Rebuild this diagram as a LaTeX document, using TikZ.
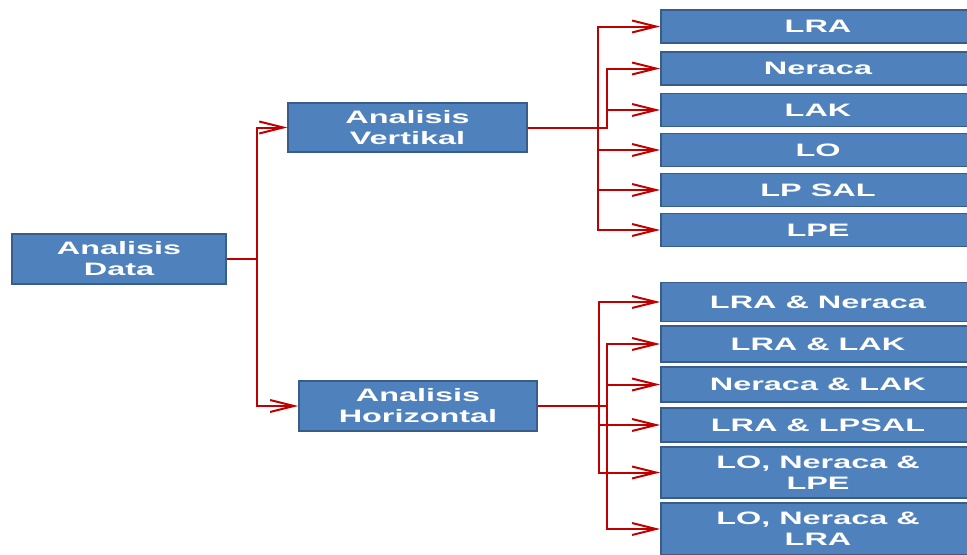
\documentclass[tikz,border=0pt]{standalone}
\usepackage{fontspec}
\newfontfamily\boxfont{Liberation Sans}[FakeStretch=1.8]
\usetikzlibrary{arrows.meta}
\definecolor{boxblue}{RGB}{79,129,189}
\definecolor{boxedge}{RGB}{56,93,138}
\definecolor{linkred}{RGB}{192,0,0}
\begin{document}
\begin{tikzpicture}[x=0.75pt,y=-0.75pt]
\tikzstyle{every node}+=[inner sep=0pt]
\tikzstyle{box}=[draw=boxedge, line width=1.2pt, fill=boxblue, text=white, align=center, font=\boxfont\bfseries\fontsize{13.5}{15.75}\selectfont]
\tikzstyle{leaf}=[box, minimum width=235.5pt]
\tikzstyle{link}=[draw=linkred, line width=1.5pt, -{Straight Barb[length=18pt,width=9pt]}]
\useasboundingbox (0,0) rectangle (967,554);
\node [box, minimum width=160.5pt, minimum height=37.5pt] (data) at (119,259) {Analisis\\Data};
\node [box, minimum width=179pt, minimum height=37pt] (vert) at (407.5,127.5) {Analisis\\Vertikal};
\node [box, minimum width=178.5pt, minimum height=37.5pt] (hor) at (418,406) {Analisis\\Horizontal};
\node [leaf, minimum height=24.75pt] (lra) at (818,26.5) {LRA};
\node [leaf, minimum height=24.75pt] (neraca) at (818,68.5) {Neraca};
\node [leaf, minimum height=24.75pt] (lak) at (818,110) {LAK};
\node [leaf, minimum height=24.75pt] (lo) at (818,150) {LO};
\node [leaf, minimum height=24.75pt] (lpsal) at (818,190) {LP SAL};
\node [leaf, minimum height=24.75pt] (lpe) at (818,230) {LPE};
\node [leaf, minimum height=29.25pt] (lraner) at (818,302) {LRA \& Neraca};
\node [leaf, minimum height=27pt] (lralak) at (818,344) {LRA \& LAK};
\node [leaf, minimum height=26.25pt] (nerlak) at (818,384.5) {Neraca \& LAK};
\node [leaf, minimum height=25.5pt] (lralpsal) at (818,425) {LRA \& LPSAL};
\node [leaf, minimum height=38.25pt] (lonerlpe) at (818,472.5) {LO, Neraca \&\\LPE};
\node [leaf, minimum height=39pt] (lonerlra) at (818,529) {LO, Neraca \&\\LRA};
\coordinate (dbus) at (257,259);
\coordinate (vbusa) at (598,127.5);
\coordinate (vbusb) at (607,127.5);
\coordinate (hbusa) at (599,406);
\coordinate (hbusb) at (607,406);
\draw [link] (data.east) -- (dbus) |- (vert.west);
\draw [link] (data.east) -- (dbus) |- (hor.west);
\draw [link] (vert.east) -- (vbusa) |- (lra.west);
\draw [link] (vert.east) -- (vbusb) |- (neraca.west);
\draw [link] (vert.east) -- (vbusb) |- (lak.west);
\draw [link] (vert.east) -- (vbusa) |- (lo.west);
\draw [link] (vert.east) -- (vbusa) |- (lpsal.west);
\draw [link] (vert.east) -- (vbusa) |- (lpe.west);
\draw [link] (hor.east) -- (hbusa) |- (lraner.west);
\draw [link] (hor.east) -- (hbusb) |- (lralak.west);
\draw [link] (hor.east) -- (hbusb) |- (nerlak.west);
\draw [link] (hor.east) -- (hbusa) |- (lralpsal.west);
\draw [link] (hor.east) -- (hbusa) |- (lonerlpe.west);
\draw [link] (hor.east) -- (hbusb) |- (lonerlra.west);
\end{tikzpicture}
\end{document}
